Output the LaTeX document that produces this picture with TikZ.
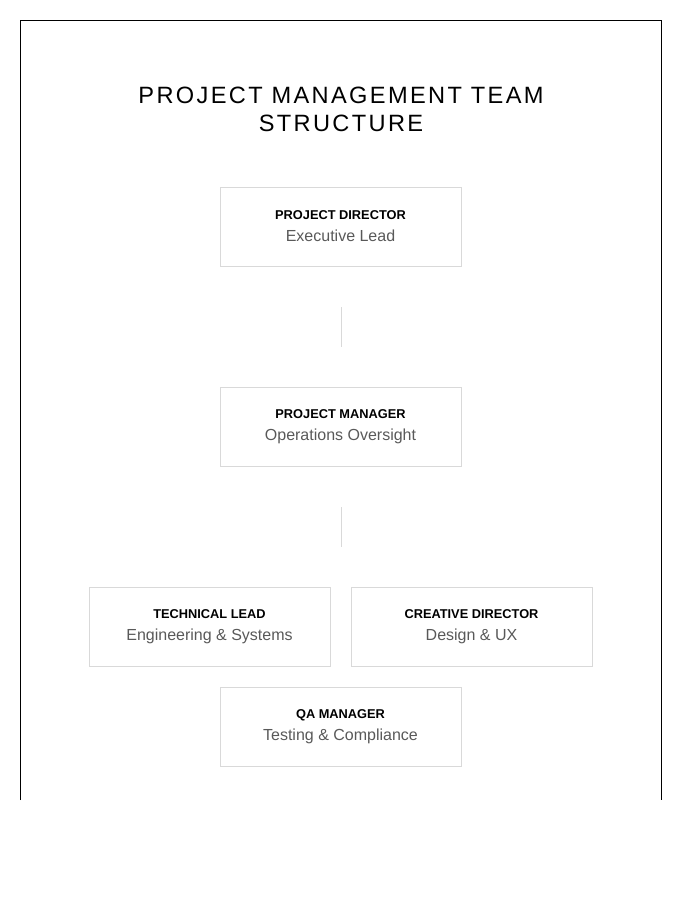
\documentclass[tikz,border=0pt]{standalone}
\usepackage{fontspec}
\setmainfont{Liberation Sans}
\newfontfamily\titlefont[LetterSpace=10]{Liberation Sans}
\begin{document}
\begin{tikzpicture}[x=0.75pt,y=-0.75pt,
  box/.style={draw=black!15,line width=0.75pt,minimum width=241*0.75pt,minimum height=79*0.75pt,inner sep=0pt,align=center},
  conn/.style={draw=black!15,line width=0.75pt}]
\useasboundingbox (0,0) rectangle (700,900);
\draw[line width=0.75pt] (20,800) -- (20,20) -- (661,20) -- (661,800);
\node[align=center,font=\titlefont\fontsize{17.7}{21}\selectfont] (title) at (341,109) {PROJECT MANAGEMENT TEAM\\STRUCTURE};
\newcommand\boxtext[2]{{\fontsize{9.6}{12}\selectfont\bfseries #1}\\[4.5pt]{\fontsize{12}{14}\selectfont\color{black!65}#2}}
\node[box] (pd) at (340.5,226.5) {\boxtext{PROJECT DIRECTOR}{Executive Lead}};
\node[box] (pm) at (340.5,426.5) {\boxtext{PROJECT MANAGER}{Operations Oversight}};
\node[box] (tl) at (209.5,626.5) {\boxtext{TECHNICAL LEAD}{Engineering \& Systems}};
\node[box] (cd) at (471.5,626.5) {\boxtext{CREATIVE DIRECTOR}{Design \& UX}};
\node[box] (qa) at (340.5,726.5) {\boxtext{QA MANAGER}{Testing \& Compliance}};
\coordinate (c1a) at (341,307); \coordinate (c1b) at (341,347);
\coordinate (c2a) at (341,507); \coordinate (c2b) at (341,547);
\draw[conn] (c1a) -- (c1b);
\draw[conn] (c2a) -- (c2b);
\end{tikzpicture}
\end{document}
